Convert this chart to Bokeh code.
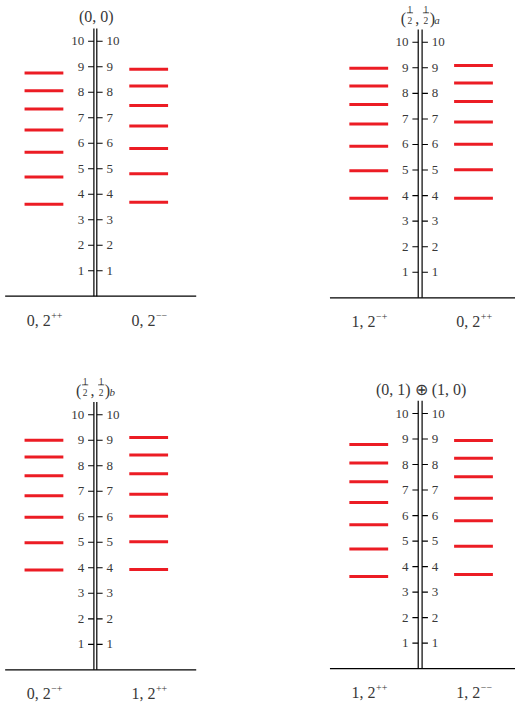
from bokeh.plotting import figure
from bokeh.layouts import column, row
from bokeh.models import Range1d
from bokeh.embed import file_html
from bokeh.resources import INLINE
from bokeh.core.properties import value

# ---------------- data ----------------
tick_values = [1, 2, 3, 4, 5, 6, 7, 8, 9, 10]
tick_labels = ["1", "2", "3", "4", "5", "6", "7", "8", "9", "10"]

p1_title = "(0, 0)"
p1_left_levels = [3.61, 4.68, 5.65, 6.52, 7.34, 8.06, 8.76]
p1_right_levels = [3.68, 4.80, 5.79, 6.68, 7.48, 8.25, 8.90]
p1_left_label = ("0, 2", "++")
p1_right_label = ("0, 2", "\u2212\u2212")

p2_title = ("1", "2", "a")          # (1/2, 1/2)_a
p2_left_levels = [3.90, 4.97, 5.93, 6.80, 7.56, 8.29, 8.98]
p2_right_levels = [3.90, 5.01, 6.01, 6.88, 7.68, 8.41, 9.09]
p2_left_label = ("1, 2", "\u2212+")
p2_right_label = ("0, 2", "++")

p3_title = ("1", "2", "b")          # (1/2, 1/2)_b
p3_left_levels = [3.91, 4.98, 5.98, 6.82, 7.61, 8.34, 9.00]
p3_right_levels = [3.93, 5.02, 6.02, 6.88, 7.69, 8.42, 9.11]
p3_left_label = ("0, 2", "\u2212+")
p3_right_label = ("1, 2", "++")

p4_title = "(0, 1) \u2295 (1, 0)"
p4_left_levels = [3.61, 4.69, 5.64, 6.51, 7.33, 8.06, 8.79]
p4_right_levels = [3.69, 4.80, 5.80, 6.68, 7.52, 8.25, 8.94]
p4_left_label = ("1, 2", "++")
p4_right_label = ("1, 2", "\u2212\u2212")

# ---------------- style ----------------
RED = "#EC1C24"
SERIF = "Liberation Serif"
TXT = "#383838"
AXIS_TOP = 10.5


def txt(p, x, y, s, size, align="center", baseline="alphabetic", style="normal", color=TXT):
    p.text(x=[x], y=[y], text=[s], text_align=align, text_baseline=baseline,
           text_font=value(SERIF), text_font_size=value(size),
           text_font_style=style, text_color=color)


def panel(ox, oy, rw, rh, w, h, base, unit, cx, half_gap, title,
          left_levels, right_levels, left_label, right_label):
    # ox, oy, rw, rh: panel box in reference-picture units; w, h: pixels
    y_top = (base - oy) / unit
    y_bot = (base - (oy + rh)) / unit
    p = figure(width=w, height=h, x_range=Range1d(ox, ox + rw),
               y_range=Range1d(y_bot, y_top), output_backend="svg",
               toolbar_location=None, min_border=0,
               x_axis_location=None, y_axis_location=None)
    p.grid.visible = False
    p.outline_line_color = None
    p.background_fill_color = "white"
    p.border_fill_color = "white"

    def px(d):
        return d / unit

    lx = cx - half_gap
    rx = cx + half_gap
    n = len(tick_values)

    # baseline
    p.segment(x0=[cx - 93], y0=[0], x1=[cx + 104], y1=[0],
              line_color="black", line_width=1.2)
    # double vertical axis
    p.segment(x0=[lx, rx], y0=[0, 0], x1=[lx, rx], y1=[AXIS_TOP, AXIS_TOP],
              line_color="black", line_width=1.2)
    # ticks
    p.segment(x0=[lx - 6] * n, y0=tick_values, x1=[lx] * n, y1=tick_values,
              line_color="black", line_width=1.1)
    p.segment(x0=[rx] * n, y0=tick_values, x1=[rx + 6] * n, y1=tick_values,
              line_color="black", line_width=1.1)
    p.text(x=[lx - 10] * n, y=tick_values, text=tick_labels, text_align="right",
           text_baseline="middle", text_font=value(SERIF),
           text_font_size=value("13px"), text_color=TXT)
    p.text(x=[rx + 10] * n, y=tick_values, text=tick_labels, text_align="left",
           text_baseline="middle", text_font=value(SERIF),
           text_font_size=value("13px"), text_color=TXT)

    # levels
    p.segment(x0=[cx - 73] * len(left_levels), y0=left_levels,
              x1=[cx - 33] * len(left_levels), y1=left_levels,
              line_color=RED, line_width=3)
    p.segment(x0=[cx + 35] * len(right_levels), y0=right_levels,
              x1=[cx + 75] * len(right_levels), y1=right_levels,
              line_color=RED, line_width=3)

    # bottom labels
    for sc, (main, sup) in [(cx - 53, left_label), (cx + 55, right_label)]:
        txt(p, sc + 7, -px(24.5), main, "16px", align="right")
        txt(p, sc + 7.5, -px(19.5), sup, "10px", align="left")

    # title
    tb = px(286)
    if isinstance(title, str):
        txt(p, cx + 1, tb, title, "16px")
    else:
        num, den, sub = title
        C = cx + 0.5
        txt(p, C - 15, tb, "(", "16px", align="right")
        for fc in (C - 11, C + 5.5):
            txt(p, fc, tb + px(8.5), num, "9.5px")
            p.segment(x0=[fc - 3.2], y0=[tb + px(5.5)], x1=[fc + 3.2], y1=[tb + px(5.5)],
                      line_color=TXT, line_width=0.8)
            txt(p, fc, tb - px(2.5), den, "9.5px")
        txt(p, C - 5.5, tb, ",", "16px", align="left")
        txt(p, C + 9.3, tb, ")", "16px", align="left")
        txt(p, C + 14, tb - px(1.5), sub, "11px", align="left", style="italic")
    return p


f1 = panel(0, 0, 265, 360, 257, 352, 302.4, 26.07, 97.8, 1.5, p1_title,
           p1_left_levels, p1_right_levels, p1_left_label, p1_right_label)
f2 = panel(265, 0, 266, 360, 258, 352, 304.1, 26.14, 432.7, 2.0, p2_title,
           p2_left_levels, p2_right_levels, p2_left_label, p2_right_label)
f3 = panel(0, 360, 265, 359, 257, 351, 684.6, 26.1, 97.8, 1.5, p3_title,
           p3_left_levels, p3_right_levels, p3_left_label, p3_right_label)
f4 = panel(265, 360, 266, 359, 258, 351, 683.4, 26.1, 432.7, 2.0, p4_title,
           p4_left_levels, p4_right_levels, p4_left_label, p4_right_label)

layout = column(row(f1, f2), row(f3, f4))
open("out.html", "w").write(file_html(layout, INLINE))
